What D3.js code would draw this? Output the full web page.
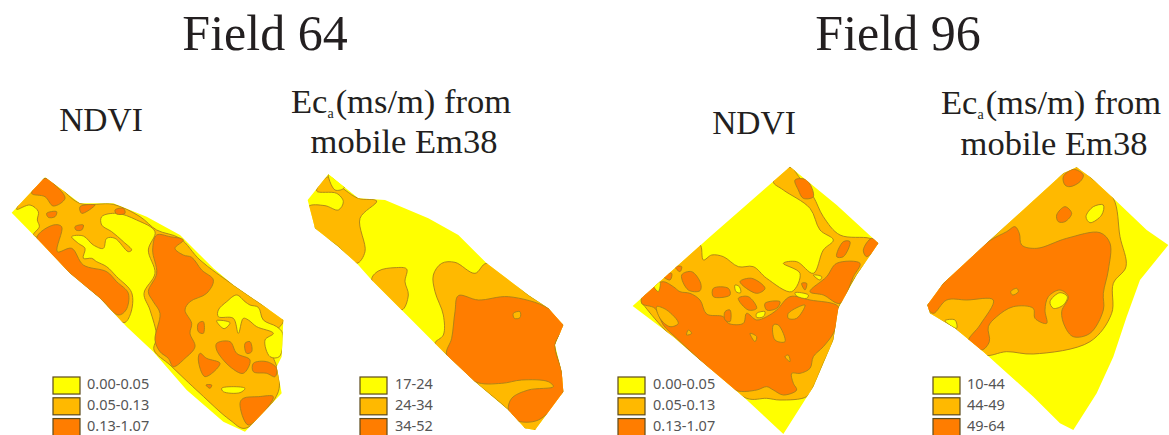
<!DOCTYPE html>
<html>
<head>
<meta charset="utf-8">
<script src="https://cdn.jsdelivr.net/npm/d3@7"></script>
<style>
  html, body { margin: 0; background: #fff; }
  svg { display: block; }
  .head { font-family: "Liberation Serif", serif; fill: #231f20; }
  .legend-label { font-family: "Noto Sans", sans-serif; font-size: 14.5px; fill: #555; }
  .zone { stroke: #a8801a; stroke-width: 0.9; stroke-linejoin: round; }
  .map { filter: blur(0.4px); }
</style>
</head>
<body>
<svg id="chart" width="1169" height="435"></svg>
<script>
const zone_colors = { low: '#ffff00', mid: '#ffb900', high: '#ff7d00' }

// legend classes
const ndvi_classes = ['0.00-0.05', '0.05-0.13', '0.13-1.07']
const ec64_classes = ['17-24', '24-34', '34-52']
const ec96_classes = ['10-44', '44-49', '49-64']

// map outlines and zones, all in map units (1 unit = 1/3 px)
const ndvi64_outline = [[35,128],[85,75],[135,22],[190,62],[240,100],[340,100],[440,140],[540,195],[640,295],[700,345],[780,400],[850,450],[845,560],[830,590],[845,670],[735,785],[670,755],[560,660],[460,545],[380,470],[300,385],[210,310],[110,205]]
const ndvi64_zones = [
  ['mid', [[50,118],[90,105],[115,125],[112,150],[118,170],[100,195],[115,205],[210,310],[300,385],[372,458],[392,430],[395,368],[350,320],[320,290],[290,275],[275,265],[250,265],[255,235],[235,220],[215,200],[250,198],[280,225],[310,235],[320,205],[345,205],[385,245],[395,240],[370,215],[335,185],[305,165],[305,140],[350,130],[410,150],[465,185],[445,240],[465,310],[432,370],[450,420],[470,500],[462,540],[510,585],[555,628],[600,670],[690,750],[735,775],[835,665],[830,590],[820,560],[825,490],[850,450],[780,400],[700,345],[600,270],[540,205],[470,180],[420,140],[340,103],[240,100],[135,25]]],
  ['low', [[655,420],[680,395],[710,375],[735,395],[750,405],[775,412],[790,450],[830,470],[848,490],[838,560],[810,560],[795,510],[820,490],[770,470],[745,450],[730,445],[715,490],[700,445],[655,440]]],
  ['low', [[650,452],[690,458],[672,476]]],
  ['low', [[665,655],[700,650],[735,655],[720,668],[670,665]]],
  ['high', [[135,25],[165,45],[195,85],[160,108],[135,80],[95,70]]],
  ['high', [[110,205],[160,165],[185,170],[172,245],[215,235],[250,285],[320,305],[350,335],[385,370],[378,420],[355,435],[300,385],[210,310]]],
  ['high', [[470,195],[510,200],[550,210],[525,235],[550,255],[575,262],[605,300],[640,330],[620,370],[570,395],[555,420],[575,460],[570,490],[585,530],[555,565],[520,590],[505,565],[480,545],[465,510],[480,430],[460,395],[445,365],[470,310],[458,240]]],
  ['high', [[730,685],[775,680],[820,680],[745,765],[720,700]]],
  ['high', [[600,550],[620,565],[660,580],[615,620],[595,570]]],
  ['high', [[650,520],[690,515],[710,550],[750,570],[730,610],[690,590],[650,540]]],
  ['high', [[760,580],[800,575],[830,595],[825,620],[800,610],[760,605]]],
  ['high', [[595,460],[610,455],[610,490],[595,485]]],
  ['high', [[735,520],[750,515],[755,545],[740,550]]],
  ['high', [[140,130],[170,125],[165,140],[145,142]]],
  ['high', [[225,170],[250,165],[245,180],[228,180]]],
  ['high', [[240,110],[285,105],[245,130]]],
  ['high', [[345,120],[370,115],[375,130],[350,132]]],
  ['high', [[618,645],[635,645],[630,655]]]
]

const ec64_outline = [[38,105],[100,28],[190,100],[270,105],[400,160],[490,210],[575,295],[700,390],[760,430],[805,480],[780,540],[800,620],[805,680],[720,795],[690,790],[640,735],[540,650],[455,570],[415,530],[320,435],[230,345],[185,295],[130,245],[60,190]]
const ec64_zones = [
  ['mid', [[40,125],[90,122],[130,135],[145,110],[125,85],[65,78],[100,35],[150,75],[190,100],[245,108],[195,160],[210,260],[185,295],[130,245],[60,190]]],
  ['low', [[100,26],[115,30],[148,68],[120,75]]],
  ['mid', [[230,345],[250,318],[300,308],[335,312],[330,350],[340,390],[320,435]]],
  ['mid', [[415,330],[440,295],[480,292],[540,325],[575,295],[700,390],[760,430],[805,480],[780,540],[800,620],[805,680],[720,795],[690,790],[640,735],[540,650],[455,570],[420,535],[445,510],[445,450],[420,380]]],
  ['high', [[490,392],[550,405],[640,395],[760,430],[805,480],[780,540],[800,620],[805,680],[730,765],[660,765],[640,735],[650,700],[700,675],[775,665],[760,650],[680,645],[620,655],[540,650],[455,570],[470,520],[480,440]]],
  ['mid', [[655,445],[675,440],[675,458],[658,460]]]
]

const ndvi96_outline = [[68,438],[300,230],[540,20],[680,135],[805,250],[740,345],[685,445],[670,540],[610,680],[520,822],[400,710],[270,600],[190,530]]
const ndvi96_zones = [
  ['mid', [[95,425],[135,370],[200,310],[270,255],[280,300],[305,285],[340,290],[385,320],[430,320],[470,355],[545,395],[570,340],[520,310],[560,305],[610,340],[640,270],[670,240],[630,210],[600,145],[520,90],[490,65],[540,22],[570,55],[610,110],[640,170],[690,225],[780,235],[805,250],[740,345],[685,445],[670,540],[640,610],[610,680],[590,710],[510,720],[470,715],[410,715],[270,600],[175,520],[105,440]]],
  ['high', [[100,400],[135,375],[160,365],[190,380],[210,395],[240,400],[270,420],[290,462],[340,470],[355,490],[400,490],[410,460],[440,480],[470,470],[500,450],[540,410],[600,420],[685,440],[680,490],[670,520],[640,560],[610,590],[600,625],[570,640],[545,640],[550,670],[560,690],[520,705],[490,690],[470,680],[440,690],[380,692],[330,655],[270,600],[200,535],[160,495],[135,445],[95,430]]],
  ['high', [[600,395],[650,350],[680,310],[750,310],[730,350],[690,430],[640,405]]],
  ['high', [[760,270],[785,235],[805,250],[770,290]]],
  ['high', [[680,290],[700,245],[720,245],[700,290]]],
  ['high', [[555,60],[590,60],[610,110],[580,115],[565,90]]],
  ['high', [[215,345],[245,335],[272,370],[270,392],[235,390]]],
  ['high', [[390,365],[425,355],[465,385],[440,400]]],
  ['high', [[310,385],[355,385],[360,405],[310,410]]],
  ['high', [[385,415],[415,410],[440,445],[415,450]]],
  ['high', [[465,430],[510,425],[500,445],[470,450]]],
  ['high', [[345,455],[360,450],[360,485],[345,480]]],
  ['high', [[155,345],[185,340],[180,360]]],
  ['high', [[195,320],[215,320],[210,335]]],
  ['high', [[575,370],[590,370],[585,390]]],
  ['mid', [[490,495],[505,495],[525,545],[495,540]]],
  ['mid', [[420,520],[440,530],[435,545]]],
  ['mid', [[535,460],[585,435],[560,475],[535,475]]],
  ['mid', [[525,590],[535,585],[540,605]]],
  ['mid', [[140,440],[170,450],[205,490],[180,500],[150,475]]],
  ['mid', [[235,510],[245,520],[230,525]]],
  ['low', [[440,460],[465,455],[460,470],[440,472]]],
  ['low', [[375,375],[388,380],[392,398],[378,395]]],
  ['low', [[555,398],[595,405],[590,415],[560,408]]],
  ['low', [[610,345],[635,350],[630,360]]],
  ['low', [[130,375],[150,365],[145,395]]]
]

const ec96_outline = [[82,435],[130,370],[270,240],[490,40],[530,22],[575,55],[640,115],[740,210],[805,255],[720,360],[680,470],[640,590],[590,700],[520,810],[480,790],[400,710],[300,620],[250,575],[165,505],[90,460]]
const ec96_zones = [
  ['mid', [[82,435],[130,370],[270,240],[490,40],[530,22],[575,55],[640,115],[660,230],[678,320],[640,370],[635,460],[570,545],[400,582],[320,575],[250,585],[165,505],[90,460]]],
  ['low', [[135,482],[165,480],[170,505]]],
  ['high', [[82,440],[130,370],[265,245],[320,215],[345,200],[358,220],[365,255],[410,265],[500,235],[600,218],[630,250],[625,330],[610,400],[610,450],[570,520],[520,530],[495,500],[485,455],[505,410],[480,390],[445,410],[435,450],[440,490],[405,475],[400,445],[340,440],[290,470],[265,500],[268,545],[245,570],[205,545],[240,495],[280,420],[200,420],[140,420],[100,460]]],
  ['high', [[490,50],[520,28],[550,45],[540,65],[510,80],[495,75]]],
  ['high', [[470,165],[495,140],[515,160],[495,185],[475,185]]],
  ['low', [[558,170],[580,140],[610,135],[605,165],[570,188]]],
  ['low', [[450,425],[480,398],[502,410],[490,435],[460,445]]],
  ['mid', [[332,395],[350,385],[355,395],[338,405]]]
]

const panels = [
  { id: 'ndvi64', outline: ndvi64_outline, zones: ndvi64_zones, classes: ndvi_classes, x0: 0, y0: 170, legend_x: 53, legend_label_x: 87, legend_y: 377 },
  { id: 'ec64', outline: ec64_outline, zones: ec64_zones, classes: ec64_classes, x0: 295, y0: 165, legend_x: 360, legend_label_x: 395, legend_y: 377 },
  { id: 'ndvi96', outline: ndvi96_outline, zones: ndvi96_zones, classes: ndvi_classes, x0: 610, y0: 160, legend_x: 618, legend_label_x: 653, legend_y: 377 },
  { id: 'ec96', outline: ec96_outline, zones: ec96_zones, classes: ec96_classes, x0: 900, y0: 160, legend_x: 933, legend_label_x: 967, legend_y: 377 }
]

const svg = d3.select('#chart')

function draw_map(p) {
  const x = d3.scaleLinear().domain([0, 900]).range([p.x0, p.x0 + 300])
  const y = d3.scaleLinear().domain([0, 900]).range([p.y0, p.y0 + 300])
  const smooth = d3.line().x((d)=> x(d[0])).y((d)=> y(d[1])).curve(d3.curveCatmullRomClosed.alpha(0.5))
  const straight = d3.line().x((d)=> x(d[0])).y((d)=> y(d[1])).curve(d3.curveLinearClosed)

  svg.append('clipPath').attr('id', `clip-${p.id}`)
    .append('path').attr('d', straight(p.outline))

  const map = svg.append('g').attr('class', 'map')
  map.append('path').attr('d', straight(p.outline)).attr('fill', zone_colors.low)

  map.append('g').attr('clip-path', `url(#clip-${p.id})`)
    .selectAll('path')
    .data(p.zones)
    .enter()
    .append('path')
    .attr('class', 'zone')
    .attr('fill', (d)=> zone_colors[d[0]])
    .attr('d', (d)=> smooth(d[1]))
}

function draw_legend(p) {
  const band = d3.scaleBand().domain(p.classes).range([p.legend_y, p.legend_y + 58.6]).paddingInner(0.18).paddingOuter(0)
  const fills = d3.scaleOrdinal().domain(p.classes).range([zone_colors.low, zone_colors.mid, zone_colors.high])
  const g = svg.append('g')

  g.selectAll('rect')
    .data(p.classes)
    .enter()
    .append('rect')
    .attr('x', p.legend_x)
    .attr('y', (d)=> band(d))
    .attr('width', 27)
    .attr('height', band.bandwidth())
    .attr('fill', (d)=> fills(d))
    .attr('stroke', '#5c4a1c')
    .attr('stroke-width', 1.2)

  g.selectAll('text')
    .data(p.classes)
    .enter()
    .append('text')
    .attr('class', 'legend-label')
    .attr('x', p.legend_label_x)
    .attr('y', (d)=> band(d) + band.bandwidth() / 2 + 3.8)
    .text((d)=> d)
}

function draw_headings() {
  const titles = [['Field 64', 265, 50], ['Field 96', 898, 50]]
  svg.selectAll('.title')
    .data(titles)
    .enter()
    .append('text')
    .attr('class', 'head title')
    .attr('text-anchor', 'middle')
    .attr('font-size', 50)
    .attr('x', (d)=> d[1])
    .attr('y', (d)=> d[2])
    .text((d)=> d[0])

  const ndvi_heads = [[101, 131], [754, 134]]
  svg.selectAll('.ndvi-head')
    .data(ndvi_heads)
    .enter()
    .append('text')
    .attr('class', 'head ndvi-head')
    .attr('text-anchor', 'middle')
    .attr('font-size', 33.5)
    .attr('x', (d)=> d[0])
    .attr('y', (d)=> d[1])
    .text('NDVI')

  const ec_heads = [[401, 113, 404, 153], [1051, 114, 1054, 155]]
  ec_heads.forEach((d)=> {
    const line1 = svg.append('text').attr('class', 'head').attr('text-anchor', 'middle')
      .attr('font-size', 34.5).attr('x', d[0]).attr('y', d[1])
    line1.append('tspan').text('Ec')
    line1.append('tspan').attr('font-size', 14).attr('dy', 5).text('a')
    line1.append('tspan').attr('dy', -5).attr('dx', 2).text('(ms/m) from')

    svg.append('text').attr('class', 'head').attr('text-anchor', 'middle')
      .attr('font-size', 34.5).attr('x', d[2]).attr('y', d[3])
      .text('mobile Em38')
  })
}

panels.forEach((p)=> {
  draw_map(p)
  draw_legend(p)
})
draw_headings()
</script>
</body>
</html>
